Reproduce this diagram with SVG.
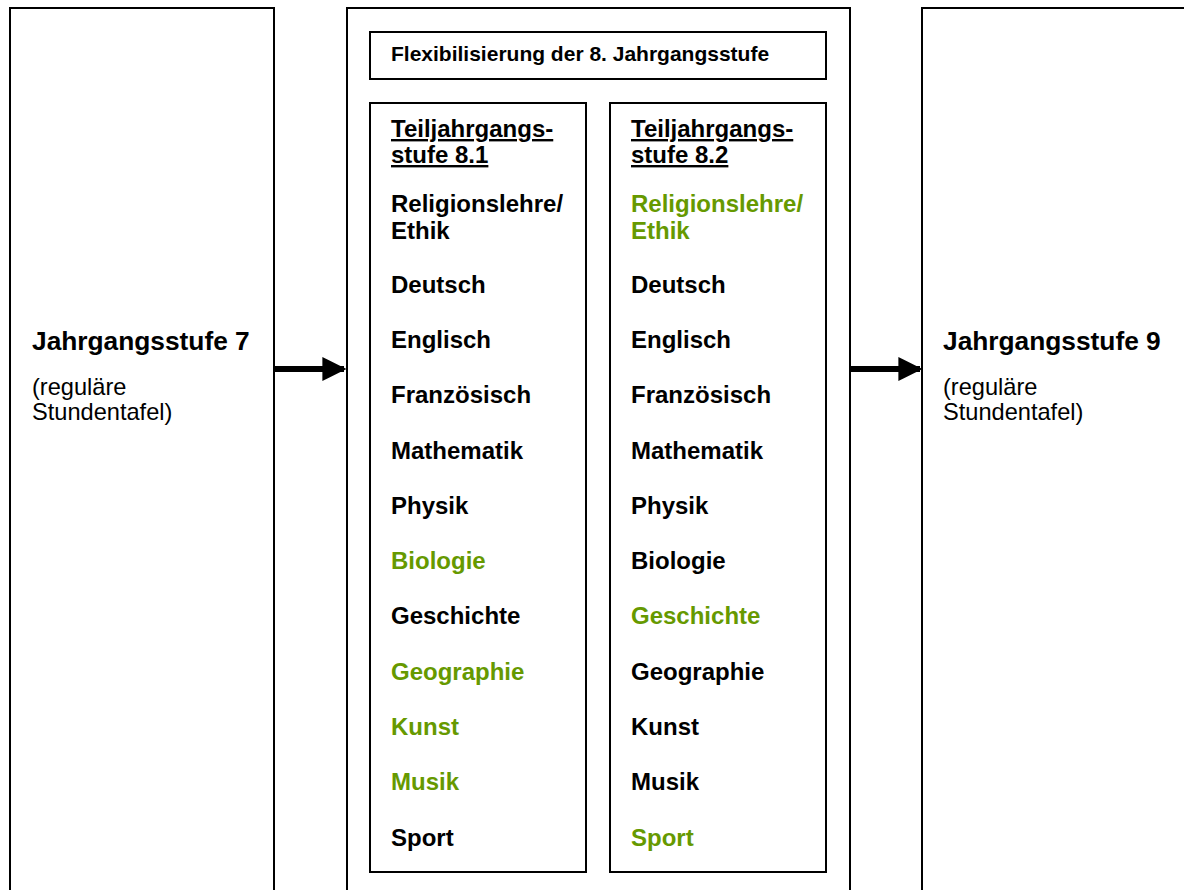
<svg xmlns="http://www.w3.org/2000/svg" width="1184" height="890" viewBox="0 0 1184 890">
<style>
.box{fill:#fff;stroke:#000;stroke-width:2}
.b{font-family:"Liberation Sans",Arial,sans-serif;font-weight:bold;font-size:24px;fill:#000}
.g{fill:#669900}
.big{font-family:"Liberation Sans",Arial,sans-serif;font-weight:bold;font-size:26.3px;fill:#000}
.reg{font-family:"Liberation Sans",Arial,sans-serif;font-size:23.6px;fill:#000}
.flex{font-family:"Liberation Sans",Arial,sans-serif;font-weight:bold;font-size:21px;fill:#000}
.u{text-decoration:underline}
</style>
<defs>
<marker id="ah" markerWidth="4" markerHeight="4" refX="3.6" refY="2" orient="auto" markerUnits="strokeWidth" viewBox="0 0 4 4">
<path d="M0,0 L4,2 L0,4 z" fill="#000"/>
</marker>
</defs>
<g id="stufe7">
<rect class="box" x="10" y="8" width="264" height="900"/>
<text class="big" x="32" y="350">Jahrgangsstufe 7</text>
<text class="reg" x="32" y="395">(reguläre</text>
<text class="reg" x="32" y="420">Stundentafel)</text>
</g>
<g id="stufe8">
<rect class="box" x="347" y="8" width="503" height="900"/>
</g>
<g id="flex">
<rect class="box" x="370" y="32" width="456" height="47"/>
<text class="flex" x="391" y="61">Flexibilisierung der 8. Jahrgangsstufe</text>
</g>
<g id="teil81">
<rect class="box" x="370" y="103" width="216" height="769"/>
<text class="b u" x="391" y="137">Teiljahrgangs-</text>
<text class="b u" x="391" y="163">stufe 8.1</text>
<text class="b" x="391" y="212">Religionslehre/</text>
<text class="b" x="391" y="239">Ethik</text>
<text class="b" x="391" y="293">Deutsch</text>
<text class="b" x="391" y="348">Englisch</text>
<text class="b" x="391" y="403">Französisch</text>
<text class="b" x="391" y="459">Mathematik</text>
<text class="b" x="391" y="514">Physik</text>
<text class="b g" x="391" y="569">Biologie</text>
<text class="b" x="391" y="624">Geschichte</text>
<text class="b g" x="391" y="680">Geographie</text>
<text class="b g" x="391" y="735">Kunst</text>
<text class="b g" x="391" y="790">Musik</text>
<text class="b" x="391" y="846">Sport</text>
</g>
<g id="teil82">
<rect class="box" x="610" y="103" width="216" height="769"/>
<text class="b u" x="631" y="137">Teiljahrgangs-</text>
<text class="b u" x="631" y="163">stufe 8.2</text>
<text class="b g" x="631" y="212">Religionslehre/</text>
<text class="b g" x="631" y="239">Ethik</text>
<text class="b" x="631" y="293">Deutsch</text>
<text class="b" x="631" y="348">Englisch</text>
<text class="b" x="631" y="403">Französisch</text>
<text class="b" x="631" y="459">Mathematik</text>
<text class="b" x="631" y="514">Physik</text>
<text class="b" x="631" y="569">Biologie</text>
<text class="b g" x="631" y="624">Geschichte</text>
<text class="b" x="631" y="680">Geographie</text>
<text class="b" x="631" y="735">Kunst</text>
<text class="b" x="631" y="790">Musik</text>
<text class="b g" x="631" y="846">Sport</text>
</g>
<g id="stufe9">
<rect class="box" x="922" y="8" width="300" height="900"/>
<text class="big" x="943" y="350">Jahrgangsstufe 9</text>
<text class="reg" x="943" y="395">(reguläre</text>
<text class="reg" x="943" y="420">Stundentafel)</text>
</g>
<g id="connectors" stroke="#000" stroke-width="6" fill="none">
<line x1="274" y1="369" x2="344" y2="369" marker-end="url(#ah)"/>
<line x1="850" y1="369" x2="920" y2="369" marker-end="url(#ah)"/>
</g>
</svg>
